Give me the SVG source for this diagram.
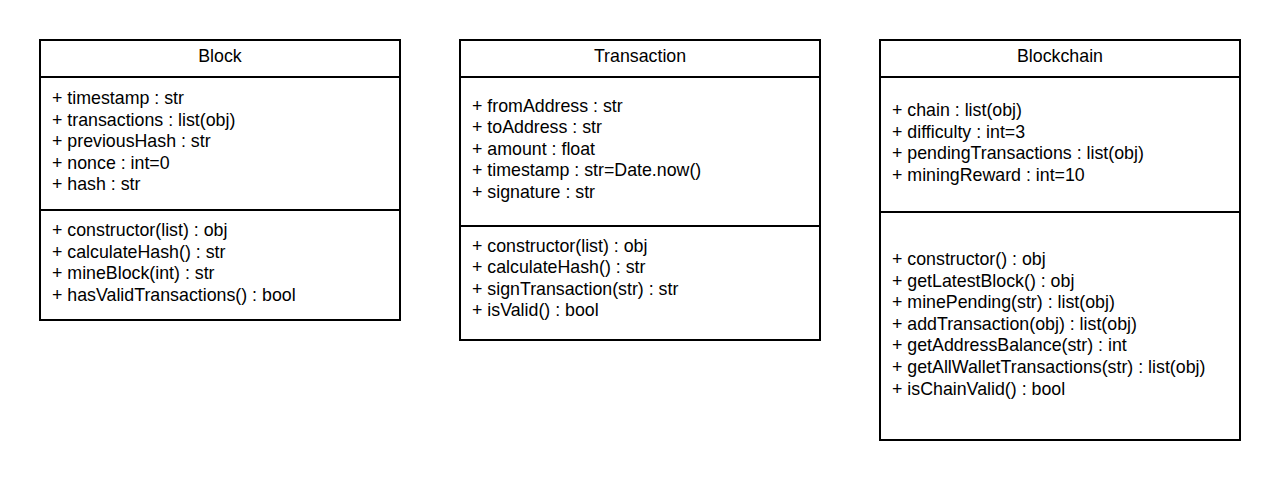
<svg xmlns="http://www.w3.org/2000/svg" width="1280" height="480" viewBox="0 0 1280 480">
<style>
.box{fill:#fff;stroke:#000;stroke-width:2}
.ln{stroke:#000;stroke-width:2}
text{font-family:"Liberation Sans",Arial,sans-serif;font-size:17.8px;fill:#000}
.t{text-anchor:middle}
</style>
<rect width="1280" height="480" fill="#fff"/>
<g id="block">
<rect class="box" x="40" y="40" width="360" height="280"/>
<line class="ln" x1="40" y1="77" x2="400" y2="77"/>
<line class="ln" x1="40" y1="210" x2="400" y2="210"/>
<text class="t" x="220" y="62">Block</text>
<text x="52" y="104">+ timestamp : str</text>
<text x="52" y="125.6">+ transactions : list(obj)</text>
<text x="52" y="147.2">+ previousHash : str</text>
<text x="52" y="168.8">+ nonce : int=0</text>
<text x="52" y="190.4">+ hash : str</text>
<text x="52" y="236">+ constructor(list) : obj</text>
<text x="52" y="257.6">+ calculateHash() : str</text>
<text x="52" y="279.2">+ mineBlock(int) : str</text>
<text x="52" y="300.8">+ hasValidTransactions() : bool</text>
</g>
<g id="transaction">
<rect class="box" x="460" y="40" width="360" height="300"/>
<line class="ln" x1="460" y1="77" x2="820" y2="77"/>
<line class="ln" x1="460" y1="226" x2="820" y2="226"/>
<text class="t" x="640" y="62">Transaction</text>
<text x="472" y="111.6">+ fromAddress : str</text>
<text x="472" y="133.2">+ toAddress : str</text>
<text x="472" y="154.8">+ amount : float</text>
<text x="472" y="176.4">+ timestamp : str=Date.now()</text>
<text x="472" y="198">+ signature : str</text>
<text x="472" y="251.6">+ constructor(list) : obj</text>
<text x="472" y="273.2">+ calculateHash() : str</text>
<text x="472" y="294.8">+ signTransaction(str) : str</text>
<text x="472" y="316.4">+ isValid() : bool</text>
</g>
<g id="blockchain">
<rect class="box" x="880" y="40" width="360" height="400"/>
<line class="ln" x1="880" y1="77" x2="1240" y2="77"/>
<line class="ln" x1="880" y1="212" x2="1240" y2="212"/>
<text class="t" x="1060" y="62">Blockchain</text>
<text x="892" y="116">+ chain : list(obj)</text>
<text x="892" y="137.6">+ difficulty : int=3</text>
<text x="892" y="159.2">+ pendingTransactions : list(obj)</text>
<text x="892" y="180.8">+ miningReward : int=10</text>
<text x="892" y="265">+ constructor() : obj</text>
<text x="892" y="286.6">+ getLatestBlock() : obj</text>
<text x="892" y="308.2">+ minePending(str) : list(obj)</text>
<text x="892" y="329.8">+ addTransaction(obj) : list(obj)</text>
<text x="892" y="351.4">+ getAddressBalance(str) : int</text>
<text x="892" y="373">+ getAllWalletTransactions(str) : list(obj)</text>
<text x="892" y="394.6">+ isChainValid() : bool</text>
</g>
<g id="connectors"></g>
</svg>
